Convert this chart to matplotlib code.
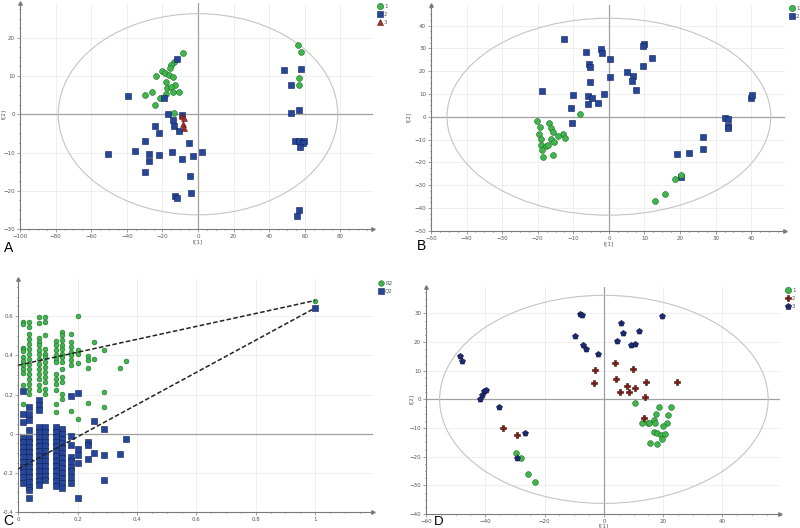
import matplotlib
matplotlib.use('Agg')
import matplotlib.pyplot as plt
from matplotlib.patches import Ellipse
from matplotlib.lines import Line2D
from matplotlib.ticker import MultipleLocator, AutoMinorLocator

# ---------------- data ----------------
# A: PCA scores, three groups
a_g1_x = [-8.6, -13.7, -15.0, -15.9, -20.2, -18.4, -16.5, -14.0, -23.6, -18.0, -12.7, -17.4, -15.0,
          -10.9, -14.0, -18.0, -25.8, -29.6, -21.2, -24.0, -13.3, 56.0, 57.7, 56.6, 56.6]
a_g1_y = [16.1, 13.7, 13.0, 12.0, 11.3, 10.9, 10.4, 9.7, 9.9, 8.4, 7.7, 7.0, 7.1,
          5.9, 5.7, 5.4, 5.7, 5.0, 4.2, 2.5, 0.3, 18.1, 16.3, 9.4, 7.6]
a_g2_x = [-11.8, -39.3, -19.3, -16.9, -14.0, -13.7, -24.3, -21.7, -10.7, -9.0, -5.1, -29.8, -35.6,
          -50.7, -27.7, -21.7, -14.8, -2.8, 2.1, -27.3, -9.0, -29.8, -4.5, -12.7, -12.0, -3.7,
          48.3, 58.1, 52.2, 56.7, 52.2, 54.3, 56.6, 59.4, 58.8, 57.5, 56.6, 55.6]
a_g2_y = [14.5, 4.9, 4.2, 0.0, -1.5, -3.0, -3.1, -4.9, -4.3, -0.3, -7.5, -7.0, -9.5,
          -10.5, -10.3, -10.7, -9.9, -10.8, -9.8, -12.3, -11.8, -15.2, -16.1, -21.3, -21.9, -20.7,
          11.7, 11.9, 7.7, 1.2, 0.3, -7.0, -7.0, -7.0, -7.5, -8.5, -25.1, -26.6]
a_g3_x = [-9.0, -8.1, -8.4, -7.7]
a_g3_y = [-0.4, -1.1, -2.6, -3.5]

# B: PCA scores, two groups
b_g1_x = [-8.2, -20.2, -16.8, -19.3, -16.3, -15.8, -19.6, -12.8, -14.3, -12.4, -16.4, -19.0,
          -15.4, -19.1, -17.7, -17.1, -18.9, -15.7, -18.5, 20.2, 18.7, 15.8, 12.9]
b_g1_y = [1.0, -2.0, -2.8, -4.7, -5.1, -6.7, -7.7, -7.4, -8.4, -9.2, -9.6, -9.9,
          -11.3, -12.4, -12.8, -12.4, -14.8, -16.7, -17.5, -25.5, -27.5, -33.7, -36.9]
b_g2_x = [-12.7, -6.4, -2.1, -1.8, 0.2, -5.6, -5.2, -5.3, 0.2, 5.1, 6.7, 6.4, 7.5, 9.9, 9.7, 9.6,
          12.1, -18.7, -10.2, -6.0, -4.7, -1.5, -3.0, -5.9, -10.7, -10.4, 39.9, 40.3, 32.7, 33.6,
          33.6, 33.4, 26.5, 26.5, 22.4, 19.2, 20.2]
b_g2_y = [33.9, 28.4, 29.5, 27.8, 25.3, 23.3, 21.7, 15.4, 17.6, 19.6, 18.0, 15.7, 11.9, 32.1, 31.1,
          22.3, 25.7, 11.1, 9.6, 9.0, 8.1, 10.0, 6.1, 5.5, 3.9, -2.6, 8.4, 9.6, -0.4, -0.9,
          -4.1, -4.9, -8.9, -14.0, -15.9, -16.3, -26.6]

# C: permutation test (R2 / Q2 per correlation column)
perm_x = [0.017, 0.037, 0.071, 0.09, 0.126, 0.146, 0.178, 0.2, 0.235, 0.255, 0.29, 0.343, 0.363]
r2_vals = [
    [0.57, 0.56, 0.44, 0.43, 0.42, 0.39, 0.37, 0.35, 0.33, 0.31, 0.25, 0.15],
    [0.57, 0.544, 0.51, 0.485, 0.459, 0.434, 0.408, 0.383, 0.358, 0.332, 0.307, 0.281, 0.256, 0.23, 0.205],
    [0.595, 0.566, 0.49, 0.468, 0.451, 0.425, 0.408, 0.383, 0.358, 0.332, 0.307, 0.281, 0.247, 0.222],
    [0.598, 0.57, 0.502, 0.434, 0.408, 0.392, 0.366, 0.341, 0.315, 0.29, 0.264, 0.23, 0.205],
    [0.473, 0.451, 0.425, 0.4, 0.383, 0.366, 0.307, 0.281, 0.256, 0.225, 0.154, 0.112],
    [0.519, 0.502, 0.476, 0.451, 0.434, 0.408, 0.392, 0.366, 0.332, 0.29, 0.264, 0.205, 0.175],
    [0.51, 0.468, 0.442, 0.417, 0.4, 0.375, 0.349, 0.117],
    [0.603, 0.429, 0.408, 0.361, 0.076],
    [0.395, 0.375, 0.336, 0.158],
    [0.466, 0.38],
    [0.429, 0.215, 0.134],
    [0.337],
    [0.37],
]
q2_vals = [
    [0.217, 0.098, 0.061, -0.02, -0.045, -0.07, -0.095, -0.12, -0.145, -0.17, -0.195, -0.22, -0.25],
    [0.137, 0.103, 0.069, 0.019, -0.02, -0.045, -0.07, -0.095, -0.12, -0.145, -0.17, -0.195, -0.22,
     -0.245, -0.27, -0.29, -0.33],
    [0.171, 0.146, 0.12, 0.035, 0.01, -0.015, -0.04, -0.065, -0.09, -0.115, -0.14, -0.165, -0.19,
     -0.215, -0.24, -0.26],
    [0.035, 0.01, -0.015, -0.04, -0.065, -0.09, -0.115, -0.14, -0.165, -0.19, -0.215, -0.235],
    [0.035, 0.01, -0.015, -0.04, -0.065, -0.09, -0.115, -0.14, -0.165, -0.19, -0.215, -0.24, -0.265],
    [0.025, 0.0, -0.025, -0.05, -0.075, -0.1, -0.125, -0.15, -0.175, -0.2, -0.225, -0.25, -0.275],
    [0.19, -0.01, -0.06, -0.12, -0.14, -0.17, -0.19, -0.22, -0.25],
    [0.21, -0.08, -0.11, -0.15, -0.33],
    [-0.04, -0.06, -0.13],
    [0.065, -0.10],
    [0.025, -0.11, -0.235],
    [-0.105],
    [-0.025],
]
r2_orig = 0.68
q2_orig = 0.642
r2_intercept = 0.35
q2_intercept = -0.18

# D: PCA scores, three groups
d_g1_x = [10.5, 18.7, 22.8, 17.6, 21.6, 16.9, 17.3, 12.7, 14.9, 15.2, 21.4, 19.9, 16.8, 18.0,
          19.4, 20.5, 19.5, 15.4, 17.9, -29.5, -27.9, -25.7, -23.1]
d_g1_y = [-1.1, -2.8, -2.8, -5.1, -5.4, -7.2, -8.1, -8.4, -8.4, -8.2, -8.1, -9.3, -11.3, -11.8,
          -12.4, -12.1, -13.7, -15.4, -15.6, -18.8, -20.3, -25.9, -28.8]
d_g2_x = [-3.0, -3.5, 3.8, 4.1, 9.9, 7.9, 5.6, 8.5, 10.5, 14.3, 13.9, 24.8, 13.5, -34.0, -29.3]
d_g2_y = [10.3, 5.7, 12.6, 7.0, 10.6, 4.8, 2.5, 2.7, 3.9, 6.1, 0.8, 6.1, -6.5, -10.0, -12.5]
d_g3_x = [-48.5, -48.0, -41.9, -41.2, -40.3, -39.8, -35.4, -26.5, -29.3, -9.6, -8.2, -7.5, -6.9,
          -6.2, -1.9, 4.4, 5.9, 6.4, 9.3, 10.6, 11.8, 19.6]
d_g3_y = [15.1, 13.5, 0.1, 1.6, 2.8, 3.3, -2.6, -11.9, -20.3, 22.2, 29.9, 29.6, 18.9,
          17.5, 15.8, 20.5, 26.6, 23.3, 19.1, 19.4, 23.7, 29.1]

# ---------------- style ----------------
GREEN, GREEN_E = '#3fb54b', '#1d6b28'
BLUE, BLUE_E = '#26469a', '#0f2056'
RED, RED_E = '#a3302a', '#5a100c'
DRED, DRED_E = '#7b1c12', '#400a05'
NAVY, NAVY_E = '#1e2a70', '#0a1240'
AXC = '#7a7a7a'

fig = plt.figure(figsize=(8, 5.28), dpi=100)
W, H = 800, 528


def add_ax(l, r, b, t):
    return fig.add_axes([l / W, 1 - b / H, (r - l) / W, (b - t) / H])


def style(ax, xlim, ylim, xstep, ystep, xfmt=None, yfmt=None):
    ax.set_xlim(xlim)
    ax.set_ylim(ylim)
    for s in ['top', 'right']:
        ax.spines[s].set_visible(False)
    for s in ['left', 'bottom']:
        ax.spines[s].set_color(AXC)
        ax.spines[s].set_linewidth(0.8)
    ax.xaxis.set_major_locator(MultipleLocator(xstep))
    ax.yaxis.set_major_locator(MultipleLocator(ystep))
    ax.xaxis.set_minor_locator(AutoMinorLocator(4))
    ax.yaxis.set_minor_locator(AutoMinorLocator(4))
    if xfmt:
        ax.xaxis.set_major_formatter(xfmt)
    if yfmt:
        ax.yaxis.set_major_formatter(yfmt)
    ax.tick_params(labelsize=4, colors=AXC, labelcolor='#555555', length=2, width=0.5, pad=1.5)
    ax.tick_params(which='minor', length=1, width=0.4)
    ax.grid(True, color='#ececec', lw=0.6)
    ax.set_axisbelow(True)
    ax.axhline(0, color='#a0a0a0', lw=0.9, zorder=1)
    # arrow heads at the ends of the axes
    ax.plot(1, 0, '>', transform=ax.transAxes, clip_on=False, ms=2.5, color=AXC, zorder=5)
    ax.plot(0, 1, '^', transform=ax.transAxes, clip_on=False, ms=2.5, color=AXC, zorder=5)


def scores_decor(ax, a, b, ylab_off, xlab_off=7.5):
    ax.axvline(0, color='#a0a0a0', lw=0.9, zorder=1)
    ax.add_patch(Ellipse((0, 0), 2 * a, 2 * b, fill=False, ec='#c4c4c4', lw=0.8, zorder=1))
    ax.annotate('t[1]', xy=(0, 0), xycoords=('data', 'axes fraction'), xytext=(0, -xlab_off),
                textcoords='offset points', ha='center', va='top', fontsize=4, color='#555555')
    ax.annotate('t[2]', xy=(0, 0), xycoords=('axes fraction', 'data'), xytext=(-ylab_off, 0),
                textcoords='offset points', ha='center', va='center', fontsize=4,
                color='#555555', rotation=90)


def legend(ax, handles, labels, x, y):
    ax.legend(handles, labels, loc='upper left', bbox_to_anchor=(x / W, 1 - y / H),
              bbox_transform=fig.transFigure, frameon=False, fontsize=4, handlelength=1,
              handletextpad=0.3, labelspacing=0.55, borderpad=0, labelcolor='#555555')


def h(marker, fc, ec, ms):
    return Line2D([], [], ls='', marker=marker, mfc=fc, mec=ec, ms=ms, mew=0.4)


# ---------- A ----------
axA = add_ax(20, 373, 229, 3)
style(axA, (-100, 98.3), (-30, 29.1), 20, 10)
scores_decor(axA, 78.5, 26.3, 12)
axA.scatter(a_g1_x, a_g1_y, s=18, c=GREEN, edgecolors=GREEN_E, linewidths=0.4, zorder=3)
axA.scatter(a_g2_x, a_g2_y, s=15, marker='s', c=BLUE, edgecolors=BLUE_E, linewidths=0.4, zorder=3)
axA.scatter(a_g3_x, a_g3_y, s=18, marker='^', c=RED, edgecolors=RED_E, linewidths=0.4, zorder=4)
legend(axA, [h('o', GREEN, GREEN_E, 4.5), h('s', BLUE, BLUE_E, 4), h('^', RED, RED_E, 4.5)],
       ['1', '2', '3'], 374, 1)

# ---------- B ----------
axB = add_ax(431, 785, 230.7, 5)
style(axB, (-50, 49.5), (-50, 49), 10, 10)
scores_decor(axB, 45.5, 43.2, 16)
axB.scatter(b_g2_x, b_g2_y, s=17, marker='s', c=BLUE, edgecolors=BLUE_E, linewidths=0.4, zorder=3)
axB.scatter(b_g1_x, b_g1_y, s=18, c=GREEN, edgecolors=GREEN_E, linewidths=0.4, zorder=3)
legend(axB, [h('o', GREEN, GREEN_E, 4.5), h('s', BLUE, BLUE_E, 4)], ['1', '2'], 786, 3)

# ---------- C ----------
axC = add_ax(18.3, 372.7, 512, 279)
style(axC, (0, 1.194), (-0.4, 0.79), 0.2, 0.2,
      xfmt=lambda v, p: f'{v:g}', yfmt=lambda v, p: f'{v:g}')
for x, ys in zip(perm_x, q2_vals):
    axC.scatter([x] * len(ys), ys, s=13, marker='s', c=BLUE, edgecolors=BLUE_E, linewidths=0.4, zorder=3)
for x, ys in zip(perm_x, r2_vals):
    axC.scatter([x] * len(ys), ys, s=12, c=GREEN, edgecolors=GREEN_E, linewidths=0.4, zorder=3)
axC.scatter([1], [q2_orig], s=13, marker='s', c=BLUE, edgecolors=BLUE_E, linewidths=0.4, zorder=3)
axC.scatter([1], [r2_orig], s=12, c=GREEN, edgecolors=GREEN_E, linewidths=0.4, zorder=3)
axC.plot([0, 1], [r2_intercept, r2_orig], ls=(0, (3, 1.5)), color='#222222', lw=1.1, zorder=4)
axC.plot([0, 1], [q2_intercept, q2_orig], ls=(0, (3, 1.5)), color='#222222', lw=1.1, zorder=4)
legend(axC, [h('o', GREEN, GREEN_E, 4), h('s', BLUE, BLUE_E, 3.8)], ['R2', 'Q2'], 375, 278)

# ---------- D ----------
axD = add_ax(426, 780, 514, 287)
style(axD, (-60, 59.4), (-40, 39.2), 20, 10)
scores_decor(axD, 55.4, 36.3, 10, xlab_off=6.5)
axD.scatter(d_g1_x, d_g1_y, s=17, c=GREEN, edgecolors=GREEN_E, linewidths=0.4, zorder=3)
axD.scatter(d_g2_x, d_g2_y, s=15, marker='P', c=DRED, edgecolors=DRED_E, linewidths=0.4, zorder=3)
axD.scatter(d_g3_x, d_g3_y, s=20, marker='p', c=NAVY, edgecolors=NAVY_E, linewidths=0.4, zorder=3)
legend(axD, [h('o', GREEN, GREEN_E, 4.5), h('P', DRED, DRED_E, 4), h('p', NAVY, NAVY_E, 4.8)],
       ['1', '2', '3'], 782, 285)

# panel letters
fig.text(4 / W, 1 - 252 / H, 'A', fontsize=10, family='Liberation Sans', va='baseline')
fig.text(417 / W, 1 - 250 / H, 'B', fontsize=10, family='Liberation Sans', va='baseline')
fig.text(3 / W, 0, 'C', fontsize=10, family='Liberation Sans', va='bottom')
fig.text(434 / W, 0, 'D', fontsize=9.5, family='Liberation Sans', va='bottom')

fig.savefig('out.png', dpi=100)
